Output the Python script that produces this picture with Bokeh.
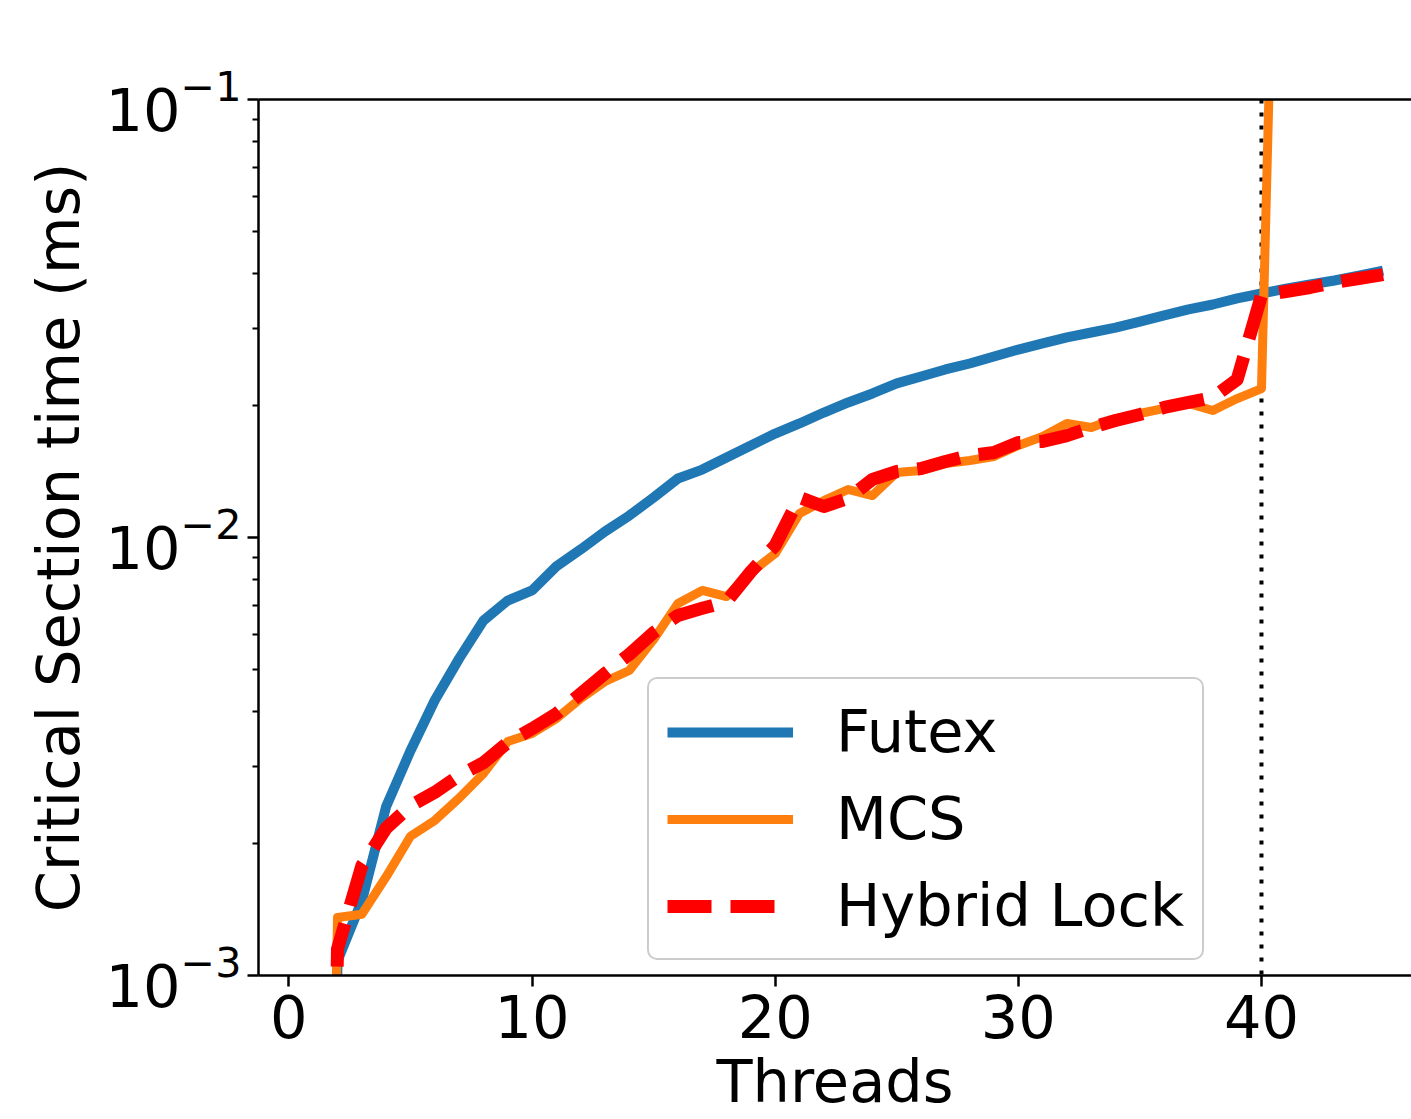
from bokeh.plotting import figure
from bokeh.models import (Range1d, FixedTicker, LinearAxis, Legend, LegendItem, Span)
from bokeh.embed import file_html
from bokeh.resources import INLINE

# ---- data ----
threads = [1, 2, 3, 4, 5, 6, 7, 8, 9, 10, 11, 12, 13, 14, 15, 16, 17, 18, 19, 20,
           21, 22, 23, 24, 25, 26, 27, 28, 29, 30, 31, 32, 33, 34, 35, 36, 37, 38, 39, 40,
           41, 42, 43, 44, 45]
futex = [0.000001, 0.00108, 0.00148, 0.00243, 0.00326, 0.00425, 0.00529, 0.00646, 0.00718, 0.00757,
         0.00859, 0.00939, 0.01032, 0.01122, 0.01234, 0.01364, 0.01429, 0.01523, 0.01622, 0.01727,
         0.01821, 0.01929, 0.02034, 0.02132, 0.02248, 0.02332, 0.02419, 0.02496, 0.02589, 0.02686,
         0.02774, 0.02863, 0.02938, 0.03014, 0.03112, 0.03213, 0.03317, 0.03404, 0.03514, 0.03606,
         0.03700, 0.03781, 0.03862, 0.03963, 0.04069]
mcs = [0.000001, 0.001356, 0.00138, 0.00168, 0.00208, 0.00226, 0.00254, 0.00289, 0.00342, 0.00357,
       0.00386, 0.00429, 0.00469, 0.00497, 0.00585, 0.00707, 0.00757, 0.00733, 0.00832, 0.00919,
       0.01135, 0.01214, 0.01287, 0.01247, 0.01407, 0.01422, 0.01475, 0.01499, 0.01531, 0.01622,
       0.01700, 0.01821, 0.01783, 0.01869, 0.01919, 0.01971, 0.02023, 0.01950, 0.02076, 0.02188,
       3.4, 3.6, 3.9, 4.1, 4.4]
hybrid = [0.000001, 0.00115, 0.00178, 0.00217, 0.00244, 0.00262, 0.00286, 0.00306, 0.00340, 0.00366,
          0.00396, 0.00440, 0.00489, 0.00541, 0.00607, 0.00664, 0.00689, 0.00714, 0.00836, 0.00959,
          0.01234, 0.01177, 0.01228, 0.01357, 0.01415, 0.01437, 0.01491, 0.01539, 0.01563, 0.01648,
          0.01657, 0.01709, 0.01783, 0.01850, 0.01909, 0.01981, 0.02034, 0.02088, 0.02295, 0.03570,
          0.03645, 0.03722, 0.03822, 0.03902, 0.03984]
saturation_threads = 40
x_ticks = [0, 10, 20, 30, 40]
y_major = [0.001, 0.01, 0.1]
y_minor = [0.002, 0.003, 0.004, 0.005, 0.006, 0.007, 0.008, 0.009,
           0.02, 0.03, 0.04, 0.05, 0.06, 0.07, 0.08, 0.09]

FONT = "DejaVu Sans"
FS = "59px"

p = figure(width=1411, height=1119, y_axis_type="log",
           x_range=Range1d(-1.25, 46.17), y_range=Range1d(0.001, 0.1),
           output_backend="svg", toolbar_location=None,
           min_border_left=258, min_border_right=0, min_border_top=99, min_border_bottom=144)
p.outline_line_color = None
p.grid.visible = False
p.background_fill_color = "white"
p.border_fill_color = "white"

# axes
for ax in (p.xaxis, p.yaxis):
    ax.axis_line_width = 2.5
    ax.axis_line_color = "black"
    ax.major_tick_line_width = 2.5
    ax.major_tick_out = 11
    ax.major_tick_in = 0
    ax.major_label_text_font = FONT
    ax.major_label_text_font_size = FS
    ax.major_label_text_color = "black"
    ax.axis_label_text_font = FONT
    ax.axis_label_text_font_size = FS
    ax.axis_label_text_font_style = "normal"
    ax.axis_label_text_color = "black"

p.xaxis.ticker = FixedTicker(ticks=x_ticks)
p.xaxis.minor_tick_line_color = None
p.xaxis.major_label_standoff = 8
p.xaxis.axis_label = "Threads"
p.xaxis.axis_label_standoff = 6

p.yaxis.ticker = FixedTicker(ticks=y_major, minor_ticks=y_minor)
p.yaxis.minor_tick_line_width = 2
p.yaxis.minor_tick_out = 6
p.yaxis.minor_tick_in = 0
p.yaxis.major_label_standoff = 6
p.yaxis.axis_label = "Critical Section time (ms)"
p.yaxis.axis_label_standoff = 10

# top spine
top = LinearAxis(ticker=FixedTicker(ticks=[]), axis_line_width=2.5, axis_line_color="black",
                 major_tick_line_color=None, minor_tick_line_color=None,
                 major_label_text_font_size="0px")
p.add_layout(top, "above")

# dotted saturation line
p.add_layout(Span(location=saturation_threads, dimension="height", line_color="black",
                  line_width=4, line_dash="4 9", level="underlay"))

r1 = p.line(threads, futex, line_color="#1f77b4", line_width=10, line_join="round")
r2 = p.line(threads, mcs, line_color="#ff7f0e", line_width=9, line_join="round")
r3 = p.line(threads, hybrid, line_color="red", line_width=13, line_dash="44 19", line_join="round")

legend = Legend(items=[LegendItem(label="Futex", renderers=[r1]),
                       LegendItem(label="MCS", renderers=[r2]),
                       LegendItem(label="Hybrid Lock", renderers=[r3])],
                location=(389, 15), orientation="vertical",
                label_text_font=FONT, label_text_font_size=FS, label_text_color="black",
                glyph_width=126, glyph_height=60, label_height=60, label_standoff=43,
                spacing=18, padding=18, margin=0,
                border_line_color="#cccccc", border_line_width=2.5, border_line_alpha=1.0,
                background_fill_color="white", background_fill_alpha=0.8)
if "border_radius" in Legend.properties():
    legend.border_radius = 10
p.add_layout(legend, "center")

open("out.html", "w").write(file_html(p, INLINE))
